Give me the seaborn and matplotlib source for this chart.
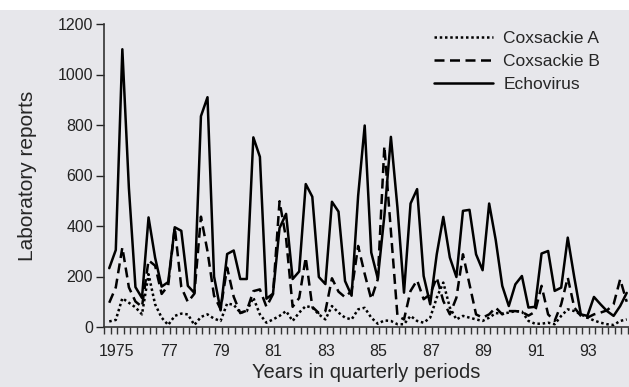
import numpy as np
import pandas as pd
import matplotlib
matplotlib.use("Agg")
import matplotlib.pyplot as plt
from matplotlib.patches import Rectangle
import seaborn as sns

# Quarterly laboratory reports, 1975 Q1 .. 1994 Q4
coxsackie_a = [22, 28, 114, 96, 78, 50, 209, 90, 37, 8,
               44, 53, 50, 8, 40, 50, 33, 24, 93, 88,
               57, 63, 116, 50, 17, 30, 44, 63, 24, 57,
               83, 77, 50, 30, 83, 57, 37, 30, 70, 76,
               37, 13, 26, 24, 11, 11, 44, 24, 17, 37,
               116, 176, 77, 30, 44, 37, 30, 24, 37, 55,
               53, 57, 63, 61, 24, 13, 13, 17, 11, 44,
               70, 63, 50, 37, 26, 17, 11, 8, 24, 30]
coxsackie_b = [96, 157, 315, 157, 101, 80, 264, 243, 131, 164,
               395, 158, 99, 132, 437, 300, 124, 71, 235, 120,
               55, 65, 142, 149, 80, 130, 498, 350, 80, 115,
               275, 80, 55, 63, 193, 140, 118, 143, 321, 210,
               110, 189, 716, 380, 44, 30, 143, 185, 110, 130,
               196, 103, 50, 116, 288, 169, 50, 37, 50, 77,
               50, 63, 63, 60, 45, 60, 163, 50, 24, 90,
               196, 77, 44, 37, 50, 57, 66, 90, 189, 100]
echovirus = [233, 305, 1100, 550, 158, 115, 434, 275, 160, 178,
             395, 381, 163, 135, 835, 910, 200, 66, 289, 303,
             190, 190, 751, 674, 112, 132, 392, 448, 190, 220,
             566, 516, 198, 170, 496, 457, 182, 124, 520, 798,
             295, 192, 440, 753, 473, 136, 489, 546, 202, 90,
             288, 436, 275, 198, 460, 464, 288, 225, 489, 345,
             163, 83, 169, 202, 77, 80, 291, 301, 143, 156,
             354, 196, 50, 44, 119, 90, 63, 44, 83, 135]
series_names = ["Coxsackie A", "Coxsackie B", "Echovirus"]
year_labels = ["1975", "77", "79", "81", "83", "85", "87", "89", "91", "93"]

quarter = np.arange(len(echovirus))
df = pd.concat([
    pd.DataFrame({"quarter": quarter, "reports": vals, "virus": name})
    for name, vals in zip(series_names, [coxsackie_a, coxsackie_b, echovirus])
])

bg = "#e7e7eb"
sns.set_style("ticks")
plt.rcParams["font.family"] = ["Liberation Sans", "DejaVu Sans"]

fig = plt.figure(figsize=(6.29, 3.87), dpi=100, facecolor=bg)
# white strip where the original title was cropped
fig.patches.append(Rectangle((0, 1 - 10 / 387), 1, 10 / 387, transform=fig.transFigure,
                             facecolor="white", edgecolor="none", zorder=0))
ax = fig.add_axes([104 / 629, 1 - 327 / 387, 1 - 104 / 629, (327 - 24) / 387])
ax.set_facecolor(bg)

sns.lineplot(data=df, x="quarter", y="reports", style="virus", color="black",
             dashes={"Coxsackie A": (1, 1.1), "Coxsackie B": (4, 2.2), "Echovirus": ""},
             linewidth=1.8, ax=ax)

ax.set_xlim(-0.8, 79.35)
ax.set_ylim(0, 1200)
ax.set_yticks(range(0, 1201, 200))
ax.set_xticks([8 * k + 1.1 for k in range(len(year_labels))])
ax.set_xticklabels(year_labels)
ax.set_xticks(np.arange(-0.8, 80, 1), minor=True)
ax.tick_params(axis="x", which="major", length=0, pad=12, labelsize=11.5, colors="#222222")
ax.tick_params(axis="x", which="minor", length=5, width=1, color="#333333")
ax.tick_params(axis="y", length=6, width=1, labelsize=11.5, colors="#222222", pad=2)

ax.set_xlabel("Years in quarterly periods", fontsize=14.5, labelpad=3)
ax.set_ylabel("Laboratory reports", fontsize=15, labelpad=15)

sns.despine(ax=ax)
for side in ["left", "bottom"]:
    ax.spines[side].set_color("#333333")
    ax.spines[side].set_linewidth(1.2)

sns.move_legend(ax, loc="upper right", bbox_to_anchor=(0.975, 1.03), title=None,
                frameon=False, fontsize=12.5, handlelength=3.4, labelspacing=0.45,
                handletextpad=0.6)

fig.savefig("out.png", dpi=100, facecolor=bg)
